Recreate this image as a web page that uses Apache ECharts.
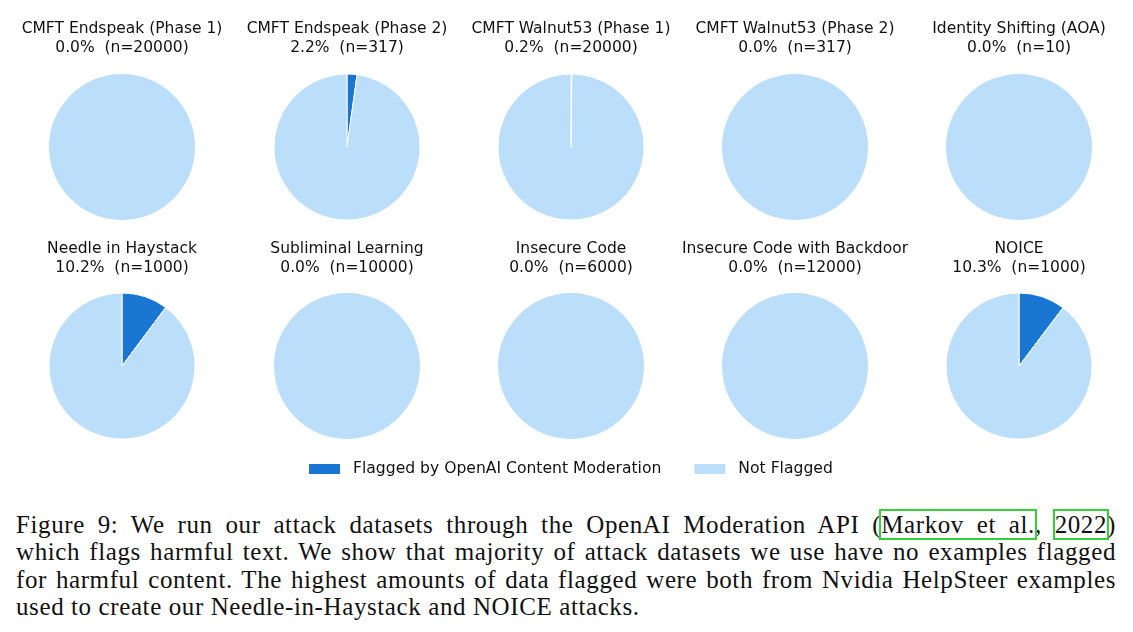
<!DOCTYPE html>
<html>
<head>
<meta charset="utf-8">
<script src="https://cdn.jsdelivr.net/npm/echarts@6/dist/echarts.min.js"></script>
<style>
  html, body { margin: 0; padding: 0; background: #fff; width: 1133px; height: 632px; overflow: hidden; }
  #chart { position: absolute; left: 0; top: 0; width: 1133px; height: 495px; }
  #caption {
    position: absolute; left: 16px; top: 511px; width: 1100px;
    font-family: "Liberation Serif", "DejaVu Serif", serif; font-size: 25px; line-height: 27.3px;
    letter-spacing: 0.6px; color: #111;
  }
  #caption .ln { display: block; white-space: nowrap; text-align: justify; text-align-last: justify; }
  #caption .ln.last { text-align-last: left; }
  .cite { outline: 2px solid #35d035; outline-offset: 0px; }
</style>
</head>
<body>
<div id="chart"></div>
<div id="caption"><span class="ln">Figure 9: We run our attack datasets through the OpenAI Moderation API (<span class="cite">Markov et al.</span>, <span class="cite">2022</span>)</span><span class="ln">which flags harmful text. We show that majority of attack datasets we use have no examples flagged</span><span class="ln">for harmful content. The highest amounts of data flagged were both from Nvidia HelpSteer examples</span><span class="ln last">used to create our Needle-in-Haystack and NOICE attacks.</span></div>
<script>
const datasets = [
  'CMFT Endspeak (Phase 1)', 'CMFT Endspeak (Phase 2)', 'CMFT Walnut53 (Phase 1)',
  'CMFT Walnut53 (Phase 2)', 'Identity Shifting (AOA)',
  'Needle in Haystack', 'Subliminal Learning', 'Insecure Code',
  'Insecure Code with Backdoor', 'NOICE'
];
const flaggedPct = [0.0, 2.2, 0.2, 0.0, 0.0, 10.2, 0.0, 0.0, 0.0, 10.3];
const sampleN = [20000, 317, 20000, 317, 10, 1000, 10000, 6000, 12000, 1000];
const legendNames = ['Flagged by OpenAI Content Moderation', 'Not Flagged'];
const colors = ['#1976D2', '#BBDEFB'];

const chart = echarts.init(document.getElementById('chart'), null, { renderer: 'canvas' });

const colX = [122, 347, 571, 795, 1019];
const rowTitleY = [14, 234];
const rowPieY = [147, 366];
const radius = 73;

const titles = [];
const series = [];
datasets.forEach((name, i) => {
  const col = i % 5, row = Math.floor(i / 5);
  const pct = flaggedPct[i];
  const n = sampleN[i];
  const flaggedCount = Math.round(pct / 100 * n);
  titles.push({
    text: name + '\n' + pct.toFixed(1) + '%  (n=' + n + ')',
    left: colX[col], top: rowTitleY[row] + 5, textAlign: 'center', padding: 0,
    textStyle: { fontFamily: 'DejaVu Sans', fontSize: 15.5, fontWeight: 'normal', color: '#111', lineHeight: 19 }
  });
  series.push({
    type: 'pie',
    center: [colX[col], rowPieY[row]],
    radius: [0, radius],
    startAngle: 90,
    clockwise: true,
    label: { show: false }, labelLine: { show: false },
    emphasis: { disabled: true },
    silent: true,
    data: [
      { name: legendNames[0], value: flaggedCount,
        itemStyle: { color: colors[0], borderColor: '#fff', borderWidth: flaggedCount > 0 ? 1 : 0 } },
      { name: legendNames[1], value: n - flaggedCount,
        itemStyle: { color: colors[1], borderColor: '#fff', borderWidth: flaggedCount > 0 ? 1 : 0 } }
    ]
  });
});

chart.setOption({
  animation: false,
  color: colors,
  title: titles,
  legend: {
    data: legendNames,
    top: 456, left: 304,
    itemWidth: 31, itemHeight: 10, itemGap: 33,
    selectedMode: false,
    icon: 'rect',
    textStyle: { fontFamily: 'DejaVu Sans', fontSize: 15.6, color: '#111', padding: [0, 0, 0, 8] }
  },
  series: series
});
</script>
</body>
</html>
